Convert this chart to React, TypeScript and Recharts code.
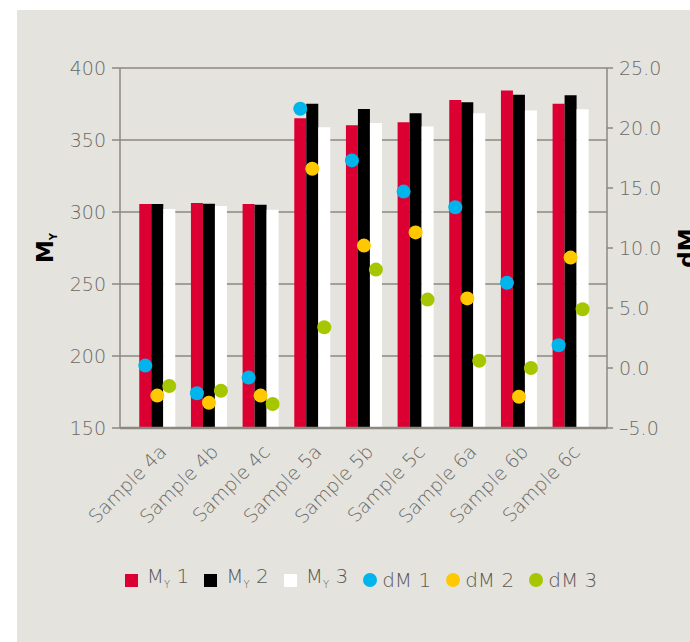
import React from 'react';
import { ComposedChart, Bar, XAxis, YAxis, CartesianGrid, Legend } from 'recharts';

const categories = ['Sample 4a', 'Sample 4b', 'Sample 4c', 'Sample 5a', 'Sample 5b', 'Sample 5c', 'Sample 6a', 'Sample 6b', 'Sample 6c'];
const my1 = [305.6, 306.2, 305.6, 365.1, 360.2, 362.3, 377.8, 384.3, 375.2];
const my2 = [305.6, 305.8, 305.1, 375.2, 371.5, 368.5, 376.2, 381.5, 381.0];
const my3 = [302.0, 304.2, 301.6, 358.8, 361.8, 359.3, 368.5, 370.4, 371.3];
const dm1 = [0.2, -2.1, -0.8, 21.6, 17.3, 14.7, 13.4, 7.1, 1.9];
const dm2 = [-2.3, -2.9, -2.3, 16.6, 10.2, 11.3, 5.8, -2.4, 9.2];
const dm3 = [-1.5, -1.9, -3.0, 3.4, 8.2, 5.7, 0.6, 0.0, 4.9];
const leftTicks = [150, 200, 250, 300, 350, 400];
const rightTicks = [-5, 0, 5, 10, 15, 20, 25];

const data = categories.map((name, i) => ({
  name,
  my1: my1[i],
  my2: my2[i],
  my3: my3[i],
  dm1: dm1[i],
  dm2: dm2[i],
  dm3: dm3[i],
}));

const RED = '#dc0032';
const BLACK = '#000000';
const WHITE = '#ffffff';
const BLUE = '#00b5ec';
const YELLOW = '#ffc800';
const GREEN = '#a6c700';
const AXIS = '#8b897f';
const TICK = '#6a6964';
const FONT = '"DejaVu Sans", sans-serif';

const makeDot = (color: string, key: string) => (props: any) => {
  const { x, y, width, height, payload } = props;
  const v = payload ? payload[key] : 0;
  const cx = x + width / 2;
  const cy = v < 0 && height > 0 ? y + height : y;
  return <circle cx={cx} cy={cy} r={7} fill={color} />;
};

const XTick = (props: any) => {
  const { x, y, payload } = props;
  const ax = x + 11;
  const ay = y + 17;
  return (
    <text
      x={ax}
      y={ay}
      transform={`rotate(-45, ${ax}, ${ay})`}
      textAnchor="end"
      fill={TICK}
      fontSize={19}
      fontWeight={200}
      fontFamily={FONT}
    >
      {payload.value}
    </text>
  );
};

const LeftLabel = (props: any) => {
  const vb = props.viewBox || { x: 0, y: 0, width: 0, height: 0 };
  const cx = vb.x + 53;
  const cy = vb.y + vb.height / 2;
  return (
    <text
      x={cx}
      y={cy}
      transform={`rotate(-90, ${cx}, ${cy})`}
      textAnchor="middle"
      fontWeight="bold"
      fontSize={23}
      fontFamily={FONT}
      fill="#000"
    >
      M
      <tspan fontSize={10} dy={4}>Y</tspan>
    </text>
  );
};

const RightLabel = (props: any) => {
  const vb = props.viewBox || { x: 0, y: 0, width: 0, height: 0 };
  const cx = vb.x + 88;
  const cy = vb.y + vb.height / 2;
  return (
    <text
      x={cx}
      y={cy}
      transform={`rotate(-90, ${cx}, ${cy})`}
      textAnchor="middle"
      fontWeight="bold"
      fontSize={23}
      fontFamily={FONT}
      fill="#000"
    >
      dM
    </text>
  );
};

const legendItems = [
  { label: 'M', sub: 'Y', num: '1', color: RED, shape: 'square' },
  { label: 'M', sub: 'Y', num: '2', color: BLACK, shape: 'square' },
  { label: 'M', sub: 'Y', num: '3', color: WHITE, shape: 'square' },
  { label: 'dM', sub: '', num: '1', color: BLUE, shape: 'circle' },
  { label: 'dM', sub: '', num: '2', color: YELLOW, shape: 'circle' },
  { label: 'dM', sub: '', num: '3', color: GREEN, shape: 'circle' },
];

const LegendContent = () => (
  <div
    style={{
      height: 100,
      boxSizing: 'border-box',
      paddingTop: 28,
      paddingLeft: 32,
      display: 'flex',
      justifyContent: 'center',
      alignItems: 'flex-start',
      fontFamily: FONT,
      fontWeight: 200,
      fontSize: 20,
      color: '#5b5a56',
    }}
  >
    {legendItems.map((it, i) => (
      <div key={i} style={{ display: 'flex', alignItems: 'center', marginRight: i < legendItems.length - 1 ? 15 : 0, height: 20 }}>
        <span
          style={{
            display: 'inline-block',
            width: it.shape === 'square' ? 13 : 14,
            height: it.shape === 'square' ? 13 : 14,
            borderRadius: it.shape === 'circle' ? '50%' : 0,
            background: it.color,
            marginRight: it.shape === 'square' ? 9 : 5,
          }}
        />
        <span style={{ whiteSpace: 'nowrap', lineHeight: '20px' }}>
          {it.label}
          {it.sub ? <sub style={{ fontSize: 10, verticalAlign: '-5px' }}>{it.sub}</sub> : null}
          {' ' + it.num}
        </span>
      </div>
    ))}
  </div>
);

export default function App() {
  return (
    <div style={{ position: 'absolute', left: 0, top: 0, width: 690, height: 642, background: '#ffffff', overflow: 'hidden' }}>
      <div style={{ position: 'absolute', left: 17, top: 10, right: 0, bottom: 0, background: '#e4e3de' }} />
      <div style={{ position: 'absolute', left: 0, top: 0 }}>
        <ComposedChart
          width={690}
          height={642}
          data={data}
          margin={{ top: 68, right: 0, bottom: 0, left: 0 }}
          barCategoryGap="16%"
          barGap={0}
          style={{ fontFamily: FONT }}
        >
          <CartesianGrid yAxisId="left" vertical={false} stroke={AXIS} strokeWidth={1.5} />
          <XAxis
            dataKey="name"
            padding={{ left: 11, right: 11 }}
            tickLine={false}
            axisLine={{ stroke: AXIS, strokeWidth: 2.5 }}
            height={114}
            interval={0}
            tick={<XTick />}
          />
          <XAxis xAxisId="dots" dataKey="name" padding={{ left: 11, right: 11 }} hide />
          <YAxis
            yAxisId="left"
            domain={[150, 400]}
            ticks={leftTicks}
            width={120}
            tickSize={8}
            tickMargin={6}
            axisLine={{ stroke: AXIS, strokeWidth: 1.5 }}
            tickLine={{ stroke: AXIS, strokeWidth: 1.5 }}
            tick={{ fill: TICK, fontSize: 19, fontWeight: 200, fontFamily: FONT }}
            label={<LeftLabel />}
          />
          <YAxis
            yAxisId="right"
            orientation="right"
            domain={[-5, 25]}
            ticks={rightTicks}
            width={83}
            tickSize={6}
            tickMargin={6}
            axisLine={{ stroke: AXIS, strokeWidth: 1.5 }}
            tickLine={{ stroke: AXIS, strokeWidth: 1.5 }}
            tick={{ fill: TICK, fontSize: 19, fontWeight: 200, fontFamily: FONT }}
            tickFormatter={(v: number) => v.toFixed(1).replace('-', '\u2013')}
            label={<RightLabel />}
          />
          <Bar dataKey="my1" yAxisId="left" fill={RED} isAnimationActive={false} />
          <Bar dataKey="my2" yAxisId="left" fill={BLACK} isAnimationActive={false} />
          <Bar dataKey="my3" yAxisId="left" fill={WHITE} isAnimationActive={false} />
          <Bar dataKey="dm1" xAxisId="dots" yAxisId="right" fill={BLUE} shape={makeDot(BLUE, 'dm1')} isAnimationActive={false} />
          <Bar dataKey="dm2" xAxisId="dots" yAxisId="right" fill={YELLOW} shape={makeDot(YELLOW, 'dm2')} isAnimationActive={false} />
          <Bar dataKey="dm3" xAxisId="dots" yAxisId="right" fill={GREEN} shape={makeDot(GREEN, 'dm3')} isAnimationActive={false} />
          <Legend verticalAlign="bottom" content={<LegendContent />} />
        </ComposedChart>
      </div>
    </div>
  );
}
